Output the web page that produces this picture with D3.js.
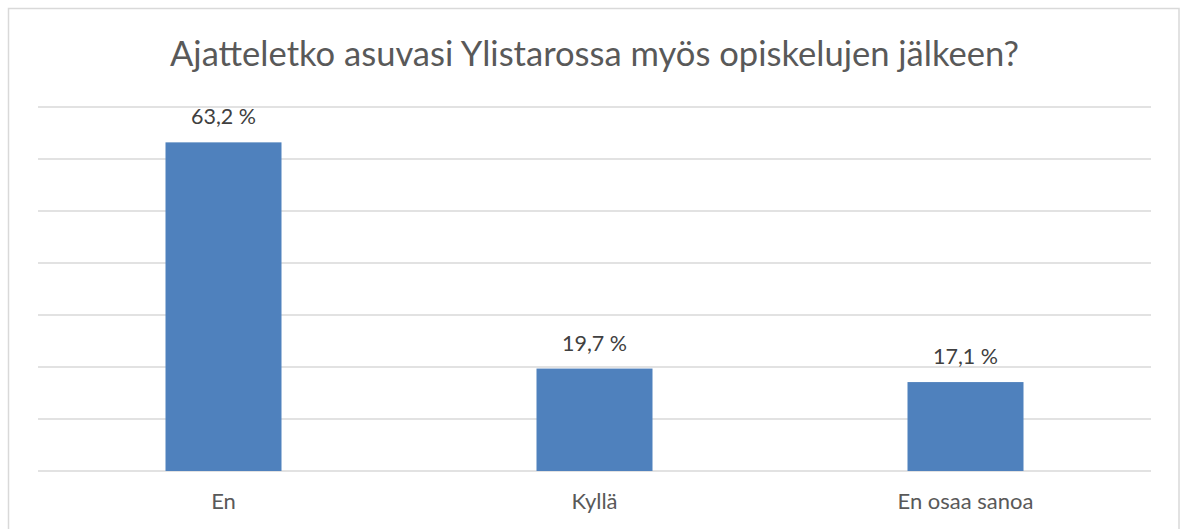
<!DOCTYPE html>
<html>
<head>
<meta charset="utf-8">
<script src="https://cdn.jsdelivr.net/npm/d3@7"></script>
<style>
  html, body { margin: 0; padding: 0; background: #ffffff; }
  svg { display: block; }
  text { font-family: "Lato", "Liberation Sans", sans-serif; }
</style>
</head>
<body>
<svg id="chart" width="1186" height="529"></svg>
<script>
const categories = ["En", "Kyllä", "En osaa sanoa"];
const values = [63.2, 19.7, 17.1];
const valueLabels = ["63,2 %", "19,7 %", "17,1 %"];
const yTicks = [0, 10, 20, 30, 40, 50, 60, 70];
const title = "Ajatteletko asuvasi Ylistarossa myös opiskelujen jälkeen?";

const svg = d3.select("#chart");
const plot = { left: 38, right: 1151, top: 107, bottom: 471 };

// outer border
svg.append("rect")
  .attr("x", 8.5).attr("y", 8.5)
  .attr("width", 1179 - 8.5).attr("height", 540)
  .attr("fill", "#ffffff")
  .attr("stroke", "#d9d9d9").attr("stroke-width", 1.5);

const pin = 1 - 116 / 371;
const x = d3.scaleBand().domain(categories).range([plot.left, plot.right])
  .paddingInner(pin).paddingOuter(pin / 2);
const y = d3.scaleLinear().domain([0, 70]).range([plot.bottom, plot.top]);

// gridlines
svg.append("g").selectAll("line").data(yTicks).join("line")
  .attr("x1", plot.left).attr("x2", plot.right)
  .attr("y1", d => y(d)).attr("y2", d => y(d))
  .attr("stroke", "#d9d9d9").attr("stroke-width", 1.5);

// bars
svg.append("g").selectAll("rect").data(values).join("rect")
  .attr("x", (d, i) => x(categories[i]))
  .attr("width", x.bandwidth())
  .attr("y", d => y(d))
  .attr("height", d => y(0) - y(d))
  .attr("fill", "#4f81bd");

function fitText(sel, targetWidth, baseSize) {
  sel.attr("font-size", baseSize);
  const w = sel.node().getComputedTextLength();
  const s = baseSize * targetWidth / w;
  sel.attr("font-size", s);
  return s;
}

// title
const t = svg.append("text")
  .attr("x", (170 + 1019) / 2).attr("y", 66)
  .attr("text-anchor", "middle")
  .attr("fill", "#595959")
  .text(title);
fitText(t, 849, 30);

// data labels
const dl = svg.append("g").selectAll("text").data(values).join("text")
  .attr("x", (d, i) => x(categories[i]) + x.bandwidth() / 2)
  .attr("y", d => y(d) - 18)
  .attr("text-anchor", "middle")
  .attr("fill", "#404040")
  .text((d, i) => valueLabels[i]);
const dlSize = fitText(d3.select(dl.nodes()[0]), 65, 18);
dl.attr("font-size", dlSize);

// category labels
const cl = svg.append("g").selectAll("text").data(categories).join("text")
  .attr("x", d => x(d) + x.bandwidth() / 2)
  .attr("y", 509)
  .attr("text-anchor", "middle")
  .attr("fill", "#595959")
  .text(d => d);
const clSize = fitText(d3.select(cl.nodes()[2]), 136, 18);
cl.attr("font-size", clSize);
</script>
</body>
</html>
